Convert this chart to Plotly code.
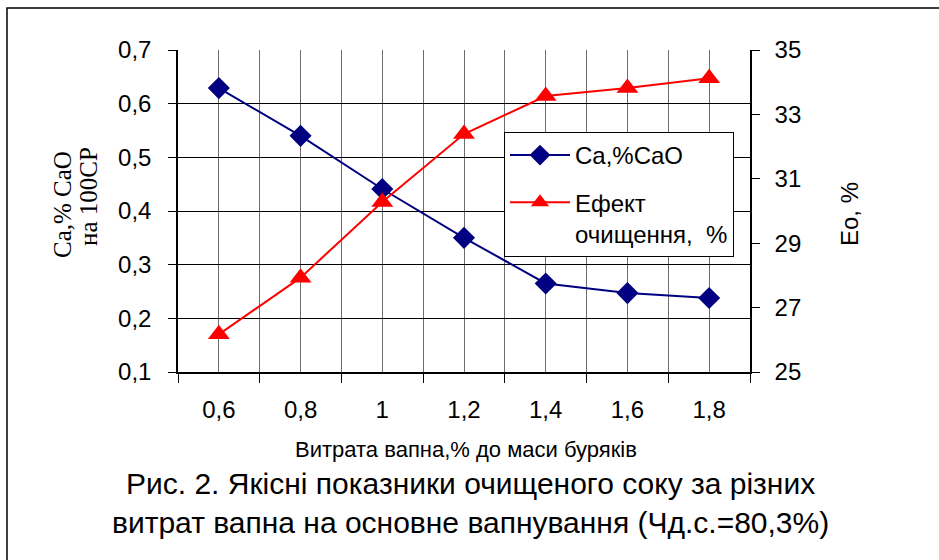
import plotly.graph_objects as go

lime_dose = [0.6, 0.8, 1.0, 1.2, 1.4, 1.6, 1.8]
ca_cao = [0.629, 0.540, 0.441, 0.350, 0.265, 0.247, 0.238]
purification_effect = [26.17, 27.93, 30.28, 32.39, 33.57, 33.82, 34.12]
category_bounds = [0.5, 0.7, 0.9, 1.1, 1.3, 1.5, 1.7, 1.9]

name_ca = "Ca,%CaO"
name_eo = "Ефект<br>очищення,\u00a0 %"
x_title = "Витрата вапна,% до маси буряків"
caption = "Рис. 2. Якісні показники очищеного соку за різних<br>витрат вапна на основне вапнування (Чд.с.=80,3%)"
y_title_1 = "Ca,% CaO"
y_title_2 = "на 100СР"
y2_title = "Eo, %"

SANS = "Liberation Sans, Arial, sans-serif"
SERIF = "Liberation Serif, Times New Roman, serif"

fig = go.Figure()
fig.add_trace(go.Scatter(
    x=lime_dose, y=ca_cao, name=name_ca, mode="lines+markers",
    line=dict(color="#000080", width=2),
    marker=dict(symbol="diamond", size=17, color="#000080"),
    legendgroup="a", yaxis="y"))
fig.add_trace(go.Scatter(
    x=lime_dose, y=purification_effect, name=name_eo, mode="lines+markers",
    line=dict(color="#FF0000", width=2),
    marker=dict(symbol="triangle-up", size=19, color="#FF0000"),
    legendgroup="b", yaxis="y2"))

L, R, T, B = 178, 939 - 750, 50, 560 - 372
W, H = 939 - L - R, 560 - T - B

def px_x(p):
    return (p - L) / W

def px_y(p):
    return (560 - B - p) / H

fig.update_layout(
    width=939, height=560,
    margin=dict(l=L, r=R, t=T, b=B, pad=0),
    paper_bgcolor="white", plot_bgcolor="white",
    separators=", ",
    font=dict(family=SANS, size=24, color="black"),
    showlegend=True,
    legend=dict(
        x=px_x(504), y=px_y(132), xanchor="left", yanchor="top",
        bgcolor="white", bordercolor="black", borderwidth=1,
        font=dict(family=SANS, size=24, color="black"),
        tracegroupgap=13, valign="top", itemwidth=60,
    ),
    xaxis=dict(
        range=[0.5, 1.9], tickmode="array", tickvals=lime_dose,
        ticks="", showgrid=True, gridcolor="#6e6e6e", gridwidth=1.3,
        showline=True, linecolor="black", linewidth=1.5,
        ticklabelstandoff=15, zeroline=False,
        minor=dict(tickmode="array", tickvals=category_bounds, ticks="outside",
                   ticklen=9, tickcolor="black", showgrid=True,
                   gridcolor="#6e6e6e", gridwidth=1.3),
        tickfont=dict(size=24),
    ),
    yaxis=dict(
        range=[0.1, 0.7], dtick=0.1, tick0=0.1,
        ticks="outside", ticklen=8, tickcolor="black",
        showgrid=True, gridcolor="black", gridwidth=1,
        showline=True, linecolor="black", linewidth=1.5,
        zeroline=False, ticklabelstandoff=12, tickfont=dict(size=24),
    ),
    yaxis2=dict(
        range=[25, 35], dtick=2, tick0=25, overlaying="y", side="right",
        ticks="outside", ticklen=8, tickcolor="black",
        showgrid=False, showline=True, linecolor="black", linewidth=1.5,
        zeroline=False, ticklabelstandoff=10, tickfont=dict(size=24),
    ),
    yaxis3=dict(
        range=[25, 35], dtick=2, tick0=25, overlaying="y", side="right",
        ticks="inside", ticklen=8, tickcolor="black", showticklabels=False,
        showgrid=False, showline=False, zeroline=False,
    ),
)

fig.add_annotation(text=x_title, xref="paper", yref="paper", x=px_x(466), y=px_y(449),
                   showarrow=False, font=dict(family=SANS, size=22), xanchor="center", yanchor="middle")
fig.add_annotation(text=caption, xref="paper", yref="paper", x=px_x(470), y=px_y(503),
                   showarrow=False, font=dict(family=SANS, size=30), xanchor="center", yanchor="middle")
fig.add_annotation(text=y_title_1, xref="paper", yref="paper", x=px_x(62), y=px_y(205),
                   showarrow=False, textangle=-90, font=dict(family=SERIF, size=25),
                   xanchor="center", yanchor="middle")
fig.add_annotation(text=y_title_2, xref="paper", yref="paper", x=px_x(88), y=px_y(197),
                   showarrow=False, textangle=-90, font=dict(family=SERIF, size=25),
                   xanchor="center", yanchor="middle")
fig.add_annotation(text=y2_title, xref="paper", yref="paper", x=px_x(849), y=px_y(214),
                   showarrow=False, textangle=-90, font=dict(family=SANS, size=24),
                   xanchor="center", yanchor="middle")

fig.add_shape(type="rect", xref="paper", yref="paper",
              x0=px_x(7), x1=px_x(960), y0=px_y(590), y1=px_y(8),
              line=dict(color="black", width=1.5), fillcolor="rgba(0,0,0,0)", layer="below")

fig.write_html("out.html", config={"displayModeBar": False},
               post_script="document.body.style.margin='0px';")
